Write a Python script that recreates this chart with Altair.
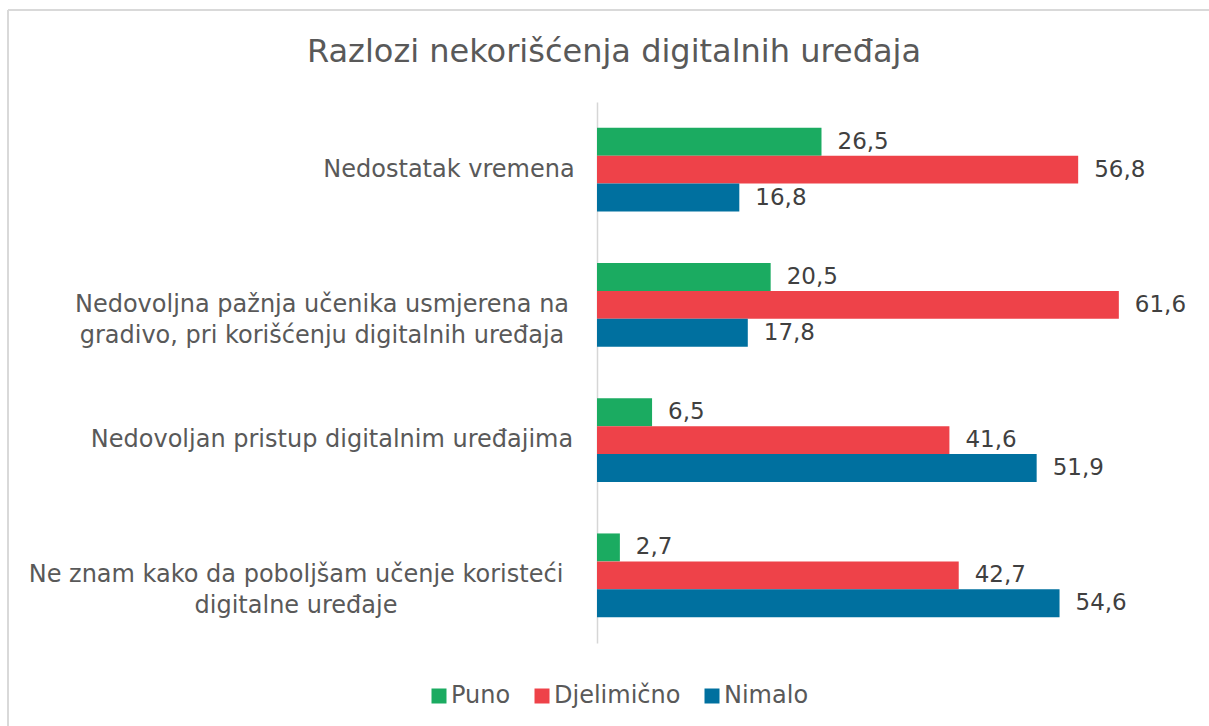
import altair as alt
import pandas as pd

# Category labels, split into the lines they are printed on
category_lines = [
    ["Nedostatak vremena"],
    ["Nedovoljna pažnja učenika usmjerena na", "gradivo, pri korišćenju digitalnih uređaja"],
    ["Nedovoljan pristup digitalnim uređajima"],
    ["Ne znam kako da poboljšam učenje koristeći", "digitalne uređaje"],
]
categories = [" ".join(lines) for lines in category_lines]

series = ["Puno", "Djelimično", "Nimalo"]
colors = ["#1bab61", "#ee4249", "#00709f"]

puno = [26.5, 20.5, 6.5, 2.7]
djelimicno = [56.8, 61.6, 41.6, 42.7]
nimalo = [16.8, 17.8, 51.9, 54.6]

title_text = "Razlozi nekorišćenja digitalnih uređaja"

# Horizontal centre of each category label block, in pixels from the axis line
label_center_px = [-148, -275, -265, -301]

rows = []
for i, cat in enumerate(categories):
    for name, vals in zip(series, [puno, djelimicno, nimalo]):
        v = vals[i]
        rows.append({"kategorija": cat, "odgovor": name, "procenat": v,
                     "oznaka": f"{v:.1f}".replace(".", ",")})
df = pd.DataFrame(rows)

labels_df = pd.DataFrame({
    "kategorija": categories,
    "tekst": ["\n".join(lines) for lines in category_lines],
    "cx": label_center_px,
})

FONT = "DejaVu Sans"
PLOT_W, PLOT_H = 593, 541

y_enc = alt.Y("kategorija:N", sort=categories,
              scale=alt.Scale(paddingInner=0.38, paddingOuter=0.19),
              axis=alt.Axis(labels=False, ticks=False, title=None, grid=False,
                            domainColor="#d6d6d6", domainWidth=1.5))
y_off = alt.YOffset("odgovor:N", sort=series, scale=alt.Scale(paddingInner=0, paddingOuter=0))
x_enc = alt.X("procenat:Q", scale=alt.Scale(domain=[0, 70]), axis=None)

bars = alt.Chart(df).mark_bar().encode(
    x=x_enc,
    y=y_enc,
    yOffset=y_off,
    color=alt.Color("odgovor:N", sort=series,
                    scale=alt.Scale(domain=series, range=colors),
                    legend=alt.Legend(title=None, orient="none", direction="horizontal",
                                      legendX=-170, legendY=582,
                                      symbolType="square", symbolSize=225,
                                      symbolStrokeWidth=0, labelFont=FONT,
                                      labelFontSize=24, labelColor="#595959",
                                      labelOffset=0, columnPadding=19)),
)

values = alt.Chart(df).mark_text(align="left", baseline="middle", dx=16,
                                 font=FONT, fontSize=23, color="#404040").encode(
    x=x_enc,
    y=y_enc,
    yOffset=y_off,
    text="oznaka:N",
)

cat_labels = alt.Chart(labels_df).mark_text(align="center", baseline="middle",
                                            lineBreak="\n", lineHeight=31,
                                            font=FONT, fontSize=24, color="#595959").encode(
    x=alt.X("cx:Q", scale=None),
    y=alt.Y("kategorija:N", sort=categories),
    text="tekst:N",
)

one_row = pd.DataFrame({"t": [title_text]})

# Chart heading, centred over the whole figure
heading = alt.Chart(one_row).mark_text(align="center", baseline="alphabetic",
                                       font=FONT, fontSize=32, color="#595959").encode(
    x=alt.value(17), y=alt.value(-40), text="t:N")

# Thin frame around the chart area
frame_left = alt.Chart(one_row).mark_rule(color="#d9d9d9", strokeWidth=2).encode(
    x=alt.value(-589), y=alt.value(-92), y2=alt.value(640))
frame_top = alt.Chart(one_row).mark_rule(color="#d9d9d9", strokeWidth=2).encode(
    x=alt.value(-589), x2=alt.value(640), y=alt.value(-92))

chart = alt.layer(frame_left, frame_top, heading, bars, values, cat_labels).properties(
    width=PLOT_W,
    height=PLOT_H,
    autosize=alt.AutoSizeParams(type="none"),
    padding={"left": 597, "top": 102, "right": 19, "bottom": 83},
    background="white",
).configure_view(stroke=None)

chart.save("out.html", embed_options={"renderer": "svg", "actions": False})
